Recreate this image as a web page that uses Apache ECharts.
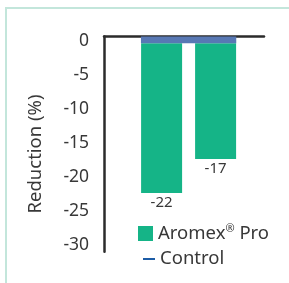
<!DOCTYPE html>
<html>
<head>
<meta charset="utf-8">
<script src="https://cdn.jsdelivr.net/npm/echarts@6/dist/echarts.min.js"></script>
<style>
  html, body { margin: 0; padding: 0; background: #fff; }
  #frame { position: absolute; left: 5px; top: 7px; width: 284px; height: 276px;
           border-left: 2px solid #c3e6db; border-top: 2px solid #c3e6db; box-sizing: border-box; }
  #chart { position: absolute; left: 0; top: 0; width: 289px; height: 283px; }
</style>
</head>
<body>
<div id="frame"></div>
<div id="chart"></div>
<script>
// values
var categories = ['A', 'B'];
var aromexValues = [-22, -17];
var controlValue = -1;
var yTicks = { min: -30, max: 0, step: 5 };

var font = 'Noto Sans';
var textColor = '#383838';

var option = {
  animation: false,
  textStyle: { fontFamily: font },
  grid: [
    // frame: axis lines only
    { left: 104, right: 25, top: 36.5, bottom: 31.3 },
    // bars
    { left: 134.6, right: 46.4, top: 36.5, bottom: 42.5 }
  ],
  xAxis: [
    {
      gridIndex: 0, type: 'category', data: [''], position: 'top',
      axisLine: { lineStyle: { color: '#2b2b2b', width: 2.5 } },
      axisTick: { show: false }, axisLabel: { show: false }
    },
    {
      gridIndex: 1, type: 'category', data: categories, show: false
    },
    {
      gridIndex: 1, type: 'category', data: ['Control'], show: false
    }
  ],
  yAxis: [
    {
      gridIndex: 0, type: 'value', min: -1, max: 0,
      axisLine: { show: true, lineStyle: { color: '#2b2b2b', width: 2.5 } },
      axisTick: { show: false }, axisLabel: { show: false }, splitLine: { show: false }
    },
    {
      gridIndex: 1, type: 'value', min: yTicks.min, max: yTicks.max, interval: yTicks.step,
      offset: 30.5,
      axisLine: { show: false }, axisTick: { show: false }, splitLine: { show: false },
      axisLabel: {
        margin: 15,
        formatter: '{v|{value}}',
        rich: { v: { color: textColor, fontSize: 17.5, fontFamily: font, padding: [9, 0, 0, 0] } }
      },
      name: 'Reduction (%)',
      nameLocation: 'middle',
      nameGap: 59,
      nameTextStyle: { color: textColor, fontSize: 18.5, fontFamily: font, padding: [0, 31, 0, 0] }
    }
  ],
  legend: [
    {
      data: ['Aromex Pro'],
      left: 138, top: 223.5, padding: 0,
      itemWidth: 15, itemHeight: 15, icon: 'rect',
      formatter: function () { return '{t|Aromex}{s|®}{t| Pro}'; },
      textStyle: {
        color: textColor, fontFamily: font,
        rich: {
          t: { fontSize: 18.5, lineHeight: 20, color: textColor, fontFamily: font },
          s: { fontSize: 11, lineHeight: 11, verticalAlign: 'top', color: textColor, fontFamily: font }
        }
      }
    },
    {
      data: [{ name: 'Control', itemStyle: { color: '#1d5ca6' } }],
      left: 143, top: 249, padding: 0,
      itemWidth: 12, itemHeight: 2, icon: 'rect',
      textStyle: { color: textColor, fontSize: 18.5, fontFamily: font, lineHeight: 20 }
    }
  ],
  series: [
    {
      name: 'base', type: 'bar', xAxisIndex: 1, yAxisIndex: 1, stack: 'r',
      barWidth: 41, silent: true,
      itemStyle: { color: 'rgba(0,0,0,0)' },
      data: categories.map(function () { return controlValue; })
    },
    {
      name: 'Aromex Pro', type: 'bar', xAxisIndex: 1, yAxisIndex: 1, stack: 'r',
      barWidth: 41,
      itemStyle: { color: '#15b487' },
      label: {
        show: true, position: 'bottom', distance: 2,
        color: textColor, fontSize: 15, fontFamily: font
      },
      data: aromexValues
    },
    {
      name: 'Control', type: 'bar', xAxisIndex: 2, yAxisIndex: 1,
      barWidth: 95.3, z: 3,
      itemStyle: { color: '#5878b4' },
      data: [controlValue]
    }
  ]
};

var myChart = echarts.init(document.getElementById('chart'));
myChart.setOption(option);
</script>
</body>
</html>
